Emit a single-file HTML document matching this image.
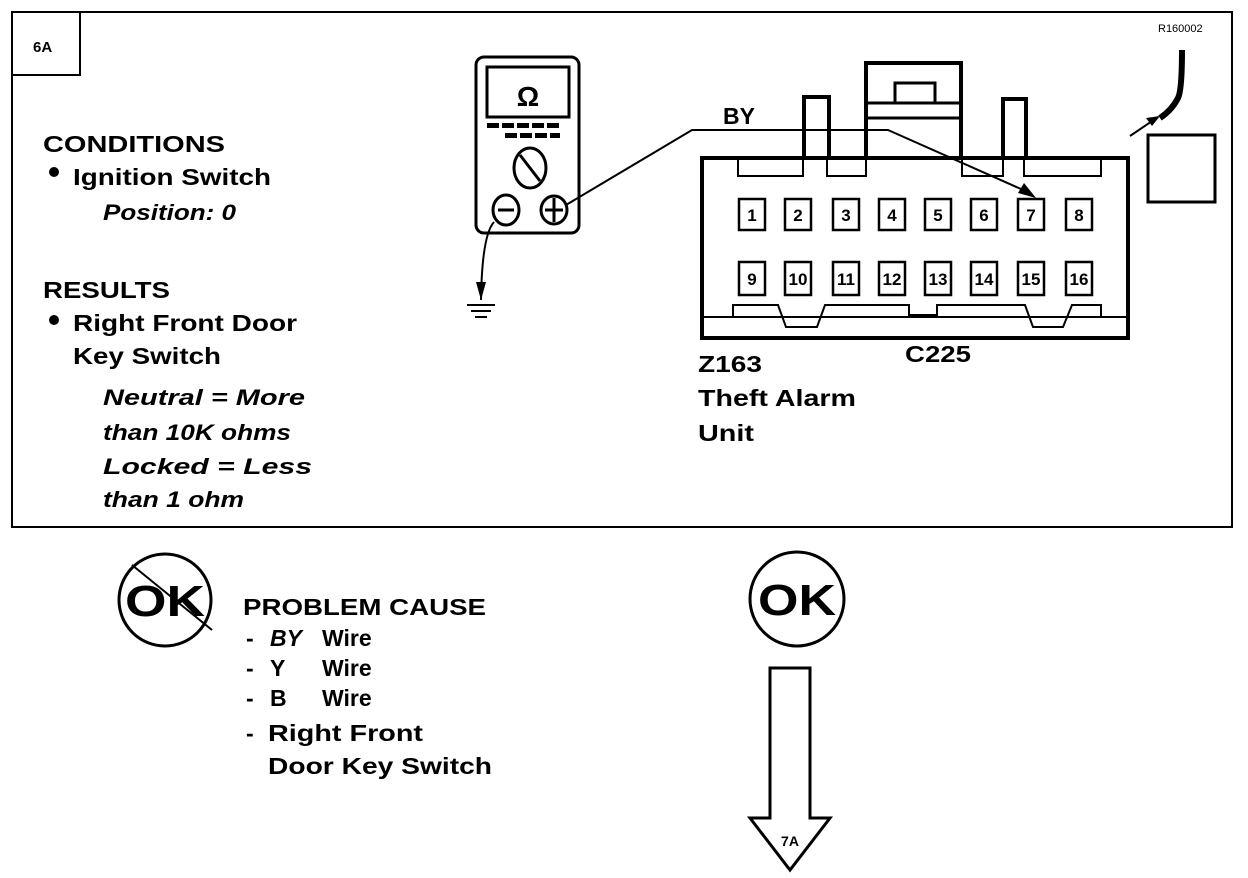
<!DOCTYPE html>
<html><head><style>
html,body{margin:0;padding:0;background:#fff;}
svg{display:block;}
text{font-family:"Liberation Sans",Arial,sans-serif;font-weight:bold;fill:#000;}
.it{font-style:italic;}
</style></head><body>
<svg width="1248" height="878" viewBox="0 0 1248 878" xmlns="http://www.w3.org/2000/svg">
<rect x="12" y="12" width="1220" height="515" fill="none" stroke="#000" stroke-width="2"/>
<path d="M12 75 H80 V12" fill="none" stroke="#000" stroke-width="2"/>
<text x="33" y="52" font-size="15">6A</text>
<text x="1158" y="32" font-size="11" style="font-weight:normal">R160002</text>

<text x="43" y="152" font-size="23" textLength="182" lengthAdjust="spacingAndGlyphs">CONDITIONS</text>
<circle cx="54" cy="172" r="5"/>
<text x="73" y="185" font-size="23" textLength="198" lengthAdjust="spacingAndGlyphs">Ignition Switch</text>
<text class="it" x="103" y="220" font-size="22" textLength="133" lengthAdjust="spacingAndGlyphs">Position: 0</text>
<text x="43" y="298" font-size="23" textLength="127" lengthAdjust="spacingAndGlyphs">RESULTS</text>
<circle cx="54" cy="320" r="5"/>
<text x="73" y="331" font-size="23" textLength="224" lengthAdjust="spacingAndGlyphs">Right Front Door</text>
<text x="73" y="364" font-size="23" textLength="148" lengthAdjust="spacingAndGlyphs">Key Switch</text>
<text class="it" x="103" y="405" font-size="22" textLength="202" lengthAdjust="spacingAndGlyphs">Neutral =  More</text>
<text class="it" x="103" y="440" font-size="22" textLength="188" lengthAdjust="spacingAndGlyphs">than 10K ohms</text>
<text class="it" x="103" y="474" font-size="22" textLength="209" lengthAdjust="spacingAndGlyphs">Locked  =  Less</text>
<text class="it" x="103" y="507" font-size="22" textLength="141" lengthAdjust="spacingAndGlyphs">than 1 ohm</text>

<!-- meter -->
<rect x="476" y="57" width="103" height="176" rx="8" fill="none" stroke="#000" stroke-width="3"/>
<rect x="487" y="67" width="82" height="50" fill="none" stroke="#000" stroke-width="3"/>
<text x="528" y="106" font-size="28" text-anchor="middle">Ω</text>
<g fill="#000">
<rect x="487" y="123" width="12" height="5"/><rect x="502" y="123" width="12" height="5"/><rect x="517" y="123" width="12" height="5"/><rect x="532" y="123" width="12" height="5"/><rect x="547" y="123" width="12" height="5"/>
<rect x="505" y="133" width="12" height="5"/><rect x="520" y="133" width="12" height="5"/><rect x="535" y="133" width="12" height="5"/><rect x="550" y="133" width="10" height="5"/>
</g>
<ellipse cx="530" cy="168" rx="16" ry="20" fill="none" stroke="#000" stroke-width="3"/>
<line x1="520" y1="155" x2="540" y2="181" stroke="#000" stroke-width="3"/>
<ellipse cx="506" cy="210" rx="13" ry="15" fill="none" stroke="#000" stroke-width="3"/>
<line x1="498" y1="210" x2="514" y2="210" stroke="#000" stroke-width="3"/>
<ellipse cx="554" cy="210" rx="13" ry="14" fill="none" stroke="#000" stroke-width="3"/>
<line x1="545" y1="210" x2="563" y2="210" stroke="#000" stroke-width="3"/>
<line x1="554" y1="198" x2="554" y2="222" stroke="#000" stroke-width="3"/>
<path d="M494 222 Q482 235 481 300" fill="none" stroke="#000" stroke-width="2"/>
<polygon points="476,282 486,282 481,300" fill="#000"/>
<line x1="467" y1="305" x2="495" y2="305" stroke="#000" stroke-width="2"/>
<line x1="471" y1="311" x2="491" y2="311" stroke="#000" stroke-width="2"/>
<line x1="475" y1="317" x2="487" y2="317" stroke="#000" stroke-width="2"/>

<!-- connector -->
<g fill="none" stroke="#000">
<rect x="702" y="158" width="426" height="180" stroke-width="4"/>
<line x1="702" y1="317" x2="1128" y2="317" stroke-width="2"/>
<rect x="804" y="97" width="25" height="61" stroke-width="4" fill="#fff"/>
<rect x="866" y="63" width="95" height="95" stroke-width="4" fill="#fff"/>
<line x1="866" y1="103" x2="961" y2="103" stroke-width="3"/>
<line x1="866" y1="118" x2="961" y2="118" stroke-width="3"/>
<rect x="895" y="83" width="40" height="20" stroke-width="3"/>
<rect x="1003" y="99" width="23" height="59" stroke-width="4" fill="#fff"/>
<rect x="738" y="158" width="65" height="18" stroke-width="2"/>
<rect x="827" y="158" width="39" height="18" stroke-width="2"/>
<rect x="962" y="158" width="41" height="18" stroke-width="2"/>
<rect x="1024" y="158" width="77" height="18" stroke-width="2"/>
<path d="M733 317 V305 H778 L786 327 H817 L825 305 H909 V315 H937 V305 H1025 L1033 327 H1063 L1072 305 H1101 V317" stroke-width="2"/>
</g>
<g fill="none" stroke="#000" stroke-width="2.5">
<rect x="739" y="199" width="26" height="31"/><rect x="785" y="199" width="26" height="31"/><rect x="833" y="199" width="26" height="31"/><rect x="879" y="199" width="26" height="31"/><rect x="925" y="199" width="26" height="31"/><rect x="971" y="199" width="26" height="31"/><rect x="1018" y="199" width="26" height="31"/><rect x="1066" y="199" width="26" height="31"/>
<rect x="739" y="262" width="26" height="33"/><rect x="785" y="262" width="26" height="33"/><rect x="833" y="262" width="26" height="33"/><rect x="879" y="262" width="26" height="33"/><rect x="925" y="262" width="26" height="33"/><rect x="971" y="262" width="26" height="33"/><rect x="1018" y="262" width="26" height="33"/><rect x="1066" y="262" width="26" height="33"/>
</g>
<g font-size="17" text-anchor="middle">
<text x="752" y="221">1</text><text x="798" y="221">2</text><text x="846" y="221">3</text><text x="892" y="221">4</text><text x="938" y="221">5</text><text x="984" y="221">6</text><text x="1031" y="221">7</text><text x="1079" y="221">8</text>
<text x="752" y="285">9</text><text x="798" y="285">10</text><text x="846" y="285">11</text><text x="892" y="285">12</text><text x="938" y="285">13</text><text x="984" y="285">14</text><text x="1031" y="285">15</text><text x="1079" y="285">16</text>
</g>

<!-- wire (on top) -->
<polyline points="566,205 692,130 888,130 1030,193" fill="none" stroke="#000" stroke-width="2"/>
<polygon points="1036,198 1018,193 1024,183" fill="#000"/>
<text x="723" y="124" font-size="23">BY</text>

<text x="698" y="372" font-size="23" textLength="64" lengthAdjust="spacingAndGlyphs">Z163</text>
<text x="698" y="406" font-size="23" textLength="158" lengthAdjust="spacingAndGlyphs">Theft Alarm</text>
<text x="698" y="441" font-size="23" textLength="56" lengthAdjust="spacingAndGlyphs">Unit</text>
<text x="905" y="362" font-size="23" textLength="66" lengthAdjust="spacingAndGlyphs">C225</text>

<!-- right side -->
<rect x="1148" y="135" width="67" height="67" fill="none" stroke="#000" stroke-width="3"/>
<path d="M1182 50 Q1182 90 1178 98 Q1172 110 1160 118" fill="none" stroke="#000" stroke-width="6"/>
<line x1="1130" y1="136" x2="1158" y2="117" stroke="#000" stroke-width="2"/>
<polygon points="1160,116 1146,118 1152,126" fill="#000"/>

<!-- bottom -->
<circle cx="165" cy="600" r="46" fill="none" stroke="#000" stroke-width="3"/>
<text x="165" y="616" font-size="44" text-anchor="middle" textLength="80" lengthAdjust="spacingAndGlyphs">OK</text>
<line x1="132" y1="565" x2="212" y2="630" stroke="#000" stroke-width="2"/>
<text x="243" y="615" font-size="23" textLength="243" lengthAdjust="spacingAndGlyphs">PROBLEM CAUSE</text>
<g font-size="23">
<text x="246" y="646">-</text><text class="it" x="270" y="646">BY</text><text x="322" y="646">Wire</text>
<text x="246" y="676">-</text><text x="270" y="676">Y</text><text x="322" y="676">Wire</text>
<text x="246" y="706">-</text><text x="270" y="706">B</text><text x="322" y="706">Wire</text>
<text x="246" y="741">-</text><text x="268" y="741" textLength="155" lengthAdjust="spacingAndGlyphs">Right Front</text>
<text x="268" y="774" textLength="224" lengthAdjust="spacingAndGlyphs">Door Key Switch</text>
</g>
<circle cx="797" cy="599" r="47" fill="none" stroke="#000" stroke-width="3"/>
<text x="797" y="615" font-size="44" text-anchor="middle" textLength="78" lengthAdjust="spacingAndGlyphs">OK</text>
<polygon points="770,668 810,668 810,818 830,818 790,870 750,818 770,818" fill="none" stroke="#000" stroke-width="3"/>
<text x="790" y="846" font-size="14" text-anchor="middle">7A</text>
</svg>
</body></html>
